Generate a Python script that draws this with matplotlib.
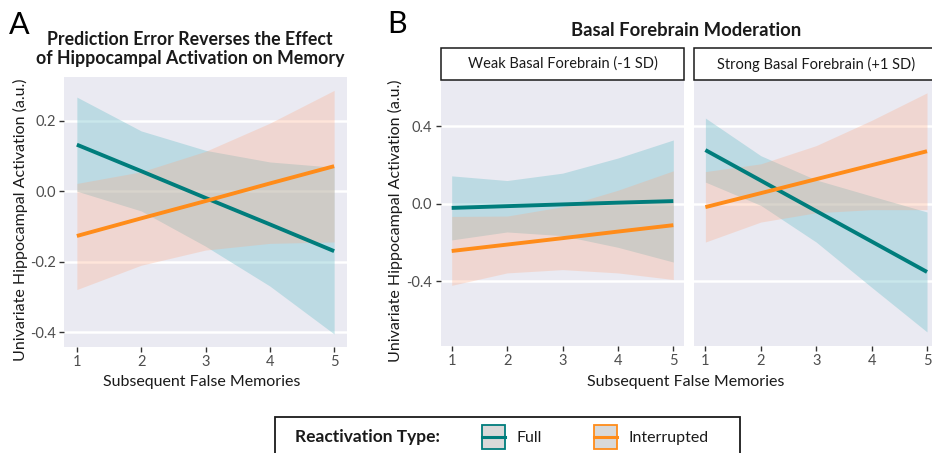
import matplotlib
matplotlib.use("Agg")
import matplotlib.pyplot as plt
from matplotlib.patches import Rectangle
from matplotlib.lines import Line2D

plt.rcParams['font.family'] = ['Lato', 'DejaVu Sans']

# ---------------- data ----------------
x = [1, 2, 3, 4, 5]
x_ticks = [1, 2, 3, 4, 5]
x_tick_labels = ["1", "2", "3", "4", "5"]

# Panel A
a_full_fit = [0.132, 0.057, -0.019, -0.094, -0.170]
a_full_lo = [0.000, -0.056, -0.156, -0.269, -0.405]
a_full_hi = [0.267, 0.171, 0.116, 0.083, 0.068]
a_int_fit = [-0.127, -0.077, -0.028, 0.022, 0.071]
a_int_lo = [-0.279, -0.210, -0.167, -0.148, -0.144]
a_int_hi = [0.022, 0.055, 0.113, 0.193, 0.286]

# Panel B, weak basal forebrain
w_full_fit = [-0.021, -0.012, -0.003, 0.006, 0.014]
w_full_lo = [-0.186, -0.145, -0.164, -0.224, -0.300]
w_full_hi = [0.144, 0.120, 0.158, 0.236, 0.329]
w_int_fit = [-0.243, -0.210, -0.177, -0.143, -0.110]
w_int_lo = [-0.420, -0.356, -0.339, -0.356, -0.390]
w_int_hi = [-0.065, -0.063, -0.015, 0.070, 0.170]

# Panel B, strong basal forebrain
s_full_fit = [0.277, 0.120, -0.037, -0.194, -0.351]
s_full_lo = [0.112, -0.008, -0.197, -0.430, -0.660]
s_full_hi = [0.442, 0.248, 0.123, 0.040, -0.042]
s_int_fit = [-0.017, 0.055, 0.127, 0.199, 0.271]
s_int_lo = [-0.197, -0.094, -0.046, -0.030, -0.030]
s_int_hi = [0.166, 0.206, 0.300, 0.430, 0.572]

a_yticks = [-0.4, -0.2, 0.0, 0.2]
a_yticklabels = ["-0.4", "-0.2", "0.0", "0.2"]
b_yticks = [-0.4, 0.0, 0.4]
b_yticklabels = ["-0.4", "0.0", "0.4"]

series_names = ["Full", "Interrupted"]
facet_names = ["Weak Basal Forebrain (-1 SD)", "Strong Basal Forebrain (+1 SD)"]

# ---------------- style ----------------
BG = "#EAEAF2"
LINE_FULL = "#007D7C"
LINE_INT = "#FF8C1A"
FILL_FULL = (120/255, 195/255, 205/255)
FILL_INT = (255/255, 165/255, 125/255)
ALPHA_FULL = 0.40
ALPHA_INT = 0.28
TICKC = "#4D4D4D"

W, H = 932, 453
fig = plt.figure(figsize=(W/100, H/100), dpi=100)


def fx(px):
    return px / W


def fy(py):
    return 1 - py / H


def make_ax(l, r, t, b):
    return fig.add_axes([fx(l), fy(b), fx(r) - fx(l), fy(t) - fy(b)])


def style(ax, ylim, yticks, yticklabels, show_y=True):
    ax.set_facecolor(BG)
    for s in ax.spines.values():
        s.set_visible(False)
    ax.set_xlim(0.8, 5.2)
    ax.set_ylim(*ylim)
    ax.set_yticks(yticks)
    ax.set_xticks(x_ticks)
    ax.set_xticklabels(x_tick_labels)
    if show_y:
        ax.set_yticklabels(yticklabels)
    else:
        ax.tick_params(axis='y', left=False, labelleft=False)
    ax.grid(axis='y', color='white', linewidth=1.8)
    ax.set_axisbelow(True)
    ax.tick_params(axis='both', length=3.5, width=1, color='#333333',
                   labelcolor=TICKC, labelsize=10.5, pad=2.5)


def draw(ax, ff, fl, fh, itf, il, ih):
    ax.fill_between(x, fl, fh, color=FILL_FULL, alpha=ALPHA_FULL, linewidth=0)
    ax.fill_between(x, il, ih, color=FILL_INT, alpha=ALPHA_INT, linewidth=0)
    ax.plot(x, ff, color=LINE_FULL, linewidth=2.8, solid_capstyle='butt')
    ax.plot(x, itf, color=LINE_INT, linewidth=2.8, solid_capstyle='butt')


# Panel A
axA = make_ax(64, 347, 77, 347)
style(axA, (-0.442, 0.324), a_yticks, a_yticklabels)
draw(axA, a_full_fit, a_full_lo, a_full_hi, a_int_fit, a_int_lo, a_int_hi)

# Panel B facets
axB1 = make_ax(440.6, 684.4, 80, 345.7)
style(axB1, (-0.731, 0.638), b_yticks, b_yticklabels)
draw(axB1, w_full_fit, w_full_lo, w_full_hi, w_int_fit, w_int_lo, w_int_hi)

axB2 = make_ax(694.3, 938.1, 80, 345.7)
style(axB2, (-0.731, 0.638), b_yticks, b_yticklabels, show_y=False)
draw(axB2, s_full_fit, s_full_lo, s_full_hi, s_int_fit, s_int_lo, s_int_hi)

# strips
for (l, r), name in zip([(440.6, 684.4), (694.3, 938.1)], facet_names):
    fig.patches.append(Rectangle((fx(l), fy(80)), fx(r) - fx(l), fy(47.7) - fy(80),
                                 transform=fig.transFigure, facecolor='white',
                                 edgecolor='#1a1a1a', linewidth=1.1))
    fig.text(fx((l + r) / 2), fy(64), name, ha='center', va='center',
             fontsize=10.5, color='#1a1a1a')

# titles and labels
fig.text(fx(9), fy(25), "A", fontsize=22, ha='left', va='center', color='black')
fig.text(fx(387), fy(24), "B", fontsize=22, ha='left', va='center', color='black')
fig.text(fx(190), fy(49), "Prediction Error Reverses the Effect\nof Hippocampal Activation on Memory",
         ha='center', va='center', fontsize=12.8, fontweight='bold', linespacing=1.15,
         color='#1a1a1a')
fig.text(fx(686), fy(31), "Basal Forebrain Moderation", ha='center', va='center',
         fontsize=13.3, fontweight='bold', color='#1a1a1a')

ylab = "Univariate Hippocampal Activation (a.u.)"
fig.text(fx(20), fy(220), ylab, rotation=90, ha='center', va='center', fontsize=11.5, color='#1a1a1a')
fig.text(fx(395), fy(221), ylab, rotation=90, ha='center', va='center', fontsize=11.5, color='#1a1a1a')
fig.text(fx(202), fy(382), "Subsequent False Memories", ha='center', va='center', fontsize=11.5, color='#1a1a1a')
fig.text(fx(686), fy(382), "Subsequent False Memories", ha='center', va='center', fontsize=11.5, color='#1a1a1a')

# legend (manual)
fig.patches.append(Rectangle((fx(275), fy(460)), fx(740) - fx(275), fy(416.7) - fy(460),
                             transform=fig.transFigure, facecolor='white',
                             edgecolor='#1a1a1a', linewidth=1.3))
fig.text(fx(295), fy(437), "Reactivation Type:", ha='left', va='center',
         fontsize=12.5, fontweight='bold', color='#1a1a1a')
for (l, r), col, name, tx in [((482, 505), LINE_FULL, series_names[0], 517),
                              ((594, 617), LINE_INT, series_names[1], 628)]:
    fig.patches.append(Rectangle((fx(l), fy(449)), fx(r) - fx(l), fy(425) - fy(449),
                                 transform=fig.transFigure, facecolor='#D9D9D9',
                                 edgecolor=col, linewidth=1.3))
    fig.lines.append(Line2D([fx(l), fx(r)], [fy(437), fy(437)], transform=fig.transFigure,
                            color=col, linewidth=2.2))
    fig.text(fx(tx), fy(438), name, ha='left', va='center', fontsize=11.5, color='#1a1a1a')

fig.savefig("out.png", dpi=100)
